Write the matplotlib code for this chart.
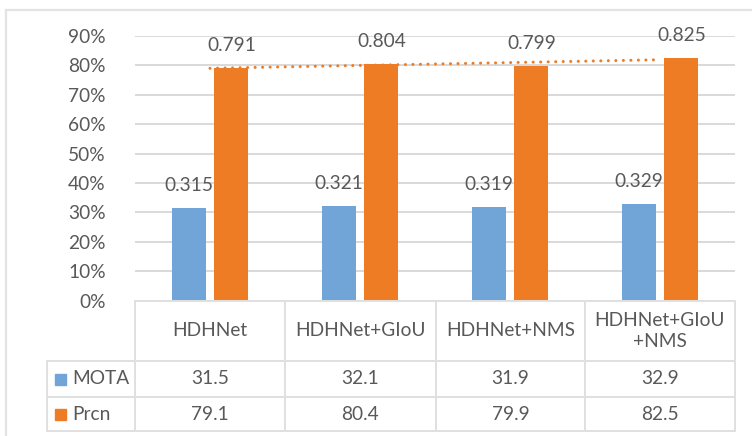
import numpy as np
import matplotlib
matplotlib.use("Agg")
import matplotlib.pyplot as plt
from matplotlib.lines import Line2D
from matplotlib.patches import Rectangle

# Data
categories = ["HDHNet", "HDHNet+GIoU", "HDHNet+NMS", "HDHNet+GIoU\n+NMS"]
series_names = ["MOTA", "Prcn"]
mota = [0.315, 0.321, 0.319, 0.329]
prcn = [0.791, 0.804, 0.799, 0.825]
y_ticks = [0.0, 0.1, 0.2, 0.3, 0.4, 0.5, 0.6, 0.7, 0.8, 0.9]

BLUE = "#71A5D8"
ORANGE = "#EE7C25"
GRID = "#D9D9D9"
TEXT = "#595959"
FONT = "Lato"
FS = 13.8

W, H = 752, 436
fig = plt.figure(figsize=(W / 100, H / 100), dpi=100)


def fx(px):
    return px / W


def fy(py):
    return 1 - py / H


# plot area in pixel coordinates (from top-left)
left, right, top, bottom = 135, 735, 36, 300.6
ax = fig.add_axes([fx(left), fy(bottom), fx(right - left), (bottom - top) / H])

x = np.arange(len(categories))
bw = 0.227
off = 0.143
ax.bar(x - off, mota, width=bw, color=BLUE, zorder=3)
ax.bar(x + off, prcn, width=bw, color=ORANGE, zorder=3)

# linear trend over the Prcn series
coef = np.polyfit(x, prcn, 1)
ax.plot(x, np.polyval(coef, x), color=ORANGE, lw=2.2,
        linestyle=(0, (0.01, 2.45)), dash_capstyle="round", zorder=4)

for xi, v in zip(x, mota):
    ax.annotate(f"{v:.3f}", (xi - off, v), xytext=(0, 16.3), textcoords="offset points",
                ha="center", va="center", fontsize=FS, color=TEXT, family=FONT)
for xi, v in zip(x, prcn):
    ax.annotate(f"{v:.3f}", (xi + off, v), xytext=(0, 16.3), textcoords="offset points",
                ha="center", va="center", fontsize=FS, color=TEXT, family=FONT)

ax.set_xlim(-0.5, len(categories) - 0.5)
ax.set_ylim(0, 0.9)
ax.set_yticks(y_ticks)
ax.set_yticklabels([f"{int(round(t * 100))}%" for t in y_ticks],
                   fontsize=FS, color=TEXT, family=FONT)
ax.tick_params(axis="y", length=0, pad=21)
ax.set_xticks([])
for s in ax.spines.values():
    s.set_visible(False)
ax.grid(axis="y", color=GRID, lw=1.4, zorder=0)
ax.set_axisbelow(True)

# outer chart frame
fig.add_artist(Line2D([fx(6), fx(6)], [fy(10), fy(440)], color="#E3E3E3", lw=1.6))
fig.add_artist(Line2D([fx(6), fx(760)], [fy(10), fy(10)], color="#E3E3E3", lw=1.6))

# data table below the plot
col_edges = [135, 285, 436, 585, 735]
row_edges = [301, 361, 397, 431]
legend_left = 47
lc = "#E0E0E0"
lw = 1.4


def hline(y, x0, x1):
    fig.add_artist(Line2D([fx(x0), fx(x1)], [fy(y), fy(y)], color=lc, lw=lw))


def vline(xp, y0, y1):
    fig.add_artist(Line2D([fx(xp), fx(xp)], [fy(y0), fy(y1)], color=lc, lw=lw))


hline(row_edges[0], col_edges[0], col_edges[-1])
for r in row_edges[1:]:
    hline(r, legend_left, col_edges[-1])
for c in col_edges:
    vline(c, row_edges[0], row_edges[-1])
vline(legend_left, row_edges[1], row_edges[-1])

for i, cat in enumerate(categories):
    cx = (col_edges[i] + col_edges[i + 1]) / 2
    cy = (row_edges[0] + row_edges[1]) / 2
    fig.text(fx(cx), fy(cy), cat, ha="center", va="center", fontsize=FS,
             color=TEXT, family=FONT, linespacing=1.25)

for r, (name, vals, col) in enumerate(zip(series_names, [mota, prcn], [BLUE, ORANGE])):
    cy = (row_edges[r + 1] + row_edges[r + 2]) / 2
    fig.add_artist(Rectangle((fx(55), fy(cy + 6)), fx(11), 11 / H, color=col,
                             transform=fig.transFigure))
    fig.text(fx(72), fy(cy), name, ha="left", va="center", fontsize=FS,
             color=TEXT, family=FONT)
    for i, v in enumerate(vals):
        cx = (col_edges[i] + col_edges[i + 1]) / 2
        fig.text(fx(cx), fy(cy), f"{v * 100:.1f}", ha="center", va="center",
                 fontsize=FS, color=TEXT, family=FONT)

fig.savefig("out.png", dpi=100)
